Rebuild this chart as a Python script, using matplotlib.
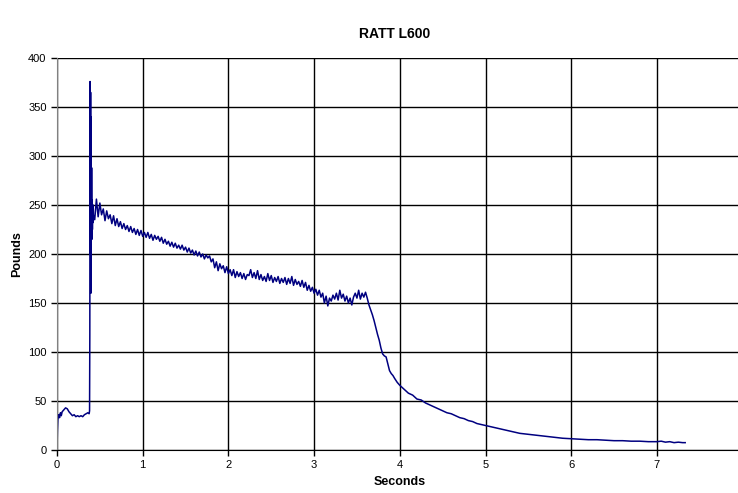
import matplotlib.pyplot as plt

plt.rcParams['font.family'] = ['Liberation Sans', 'DejaVu Sans']

# start: pre-load and ignition spike
t_start = [0.00, 0.005, 0.01, 0.02, 0.03, 0.04, 0.05, 0.06, 0.08, 0.10, 0.12, 0.14,
           0.16, 0.18, 0.20, 0.22, 0.24, 0.26, 0.28, 0.30, 0.32, 0.34, 0.36, 0.375,
           0.380, 0.383, 0.386, 0.389, 0.392, 0.395, 0.398, 0.401, 0.404, 0.407,
           0.410, 0.413, 0.416, 0.419, 0.422, 0.425]
p_start = [0, 20, 31, 36, 33, 38, 35, 39, 41, 43, 42, 39,
           37, 35, 36, 34, 35, 34, 35, 34, 36, 37, 38, 37,
           40, 118, 376, 200, 365, 160, 340, 230, 288, 215,
           255, 225, 245, 232, 250, 240]

# burn: noisy plateau
t_burn = [0.44, 0.46, 0.48, 0.50, 0.52, 0.54, 0.56, 0.58, 0.60, 0.62,
          0.64, 0.66, 0.68, 0.70, 0.72, 0.74, 0.76, 0.78, 0.80, 0.82,
          0.84, 0.86, 0.88, 0.90, 0.92, 0.94, 0.96, 0.98, 1.00, 1.02,
          1.04, 1.06, 1.08, 1.10, 1.12, 1.14, 1.16, 1.18, 1.20, 1.22,
          1.24, 1.26, 1.28, 1.30, 1.32, 1.34, 1.36, 1.38, 1.40, 1.42,
          1.44, 1.46, 1.48, 1.50, 1.52, 1.54, 1.56, 1.58, 1.60, 1.62,
          1.64, 1.66, 1.68, 1.70, 1.72, 1.74, 1.76, 1.78, 1.80, 1.82,
          1.84, 1.86, 1.88, 1.90, 1.92, 1.94, 1.96, 1.98, 2.00, 2.02,
          2.04, 2.06, 2.08, 2.10, 2.12, 2.14, 2.16, 2.18, 2.20, 2.22,
          2.24, 2.26, 2.28, 2.30, 2.32, 2.34, 2.36, 2.38, 2.40, 2.42,
          2.44, 2.46, 2.48, 2.50, 2.52, 2.54, 2.56, 2.58, 2.60, 2.62,
          2.64, 2.66, 2.68, 2.70, 2.72, 2.74, 2.76, 2.78, 2.80, 2.82,
          2.84, 2.86, 2.88, 2.90, 2.92, 2.94, 2.96, 2.98, 3.00, 3.02,
          3.04, 3.06, 3.08, 3.10, 3.12, 3.14, 3.16, 3.18, 3.20, 3.22,
          3.24, 3.26, 3.28, 3.30, 3.32, 3.34, 3.36, 3.38, 3.40, 3.42,
          3.44, 3.46, 3.48, 3.50, 3.52, 3.54, 3.56, 3.58, 3.60, 3.62]
p_burn = [235, 256, 238, 252, 240, 246, 234, 244, 236, 240,
          231, 239, 229, 236, 228, 233, 226, 231, 225, 229,
          223, 228, 222, 226, 220, 225, 219, 224, 218, 222,
          217, 222, 216, 220, 214, 219, 215, 218, 213, 217,
          211, 215, 210, 213, 208, 212, 207, 211, 206, 209,
          205, 209, 204, 207, 202, 206, 201, 204, 199, 203,
          198, 202, 197, 200, 195, 199, 196, 198, 192, 195,
          186, 192, 183, 190, 185, 188, 181, 187, 180, 184,
          178, 184, 176, 182, 177, 181, 175, 180, 174, 179,
          178, 184, 176, 181, 175, 183, 174, 179, 173, 177,
          172, 180, 173, 178, 171, 176, 172, 177, 170, 175,
          171, 176, 169, 175, 170, 177, 168, 174, 169, 172,
          167, 173, 166, 171, 163, 168, 162, 166, 160, 164,
          158, 163, 156, 160, 150, 157, 147, 155, 152, 158,
          154, 160, 153, 163, 155, 159, 152, 157, 150, 155,
          148, 156, 160, 155, 163, 154, 160, 156, 161, 155]

# tail-off
t_tail = [3.64, 3.66, 3.68, 3.70, 3.72, 3.74, 3.76, 3.78, 3.80, 3.82, 3.84,
          3.86, 3.88, 3.90, 3.92, 3.94, 3.97, 4.00, 4.05, 4.10, 4.15, 4.20,
          4.25, 4.30, 4.35, 4.40, 4.45, 4.50, 4.55, 4.60, 4.65, 4.70, 4.75,
          4.80, 4.85, 4.90, 4.95, 5.00, 5.05, 5.10, 5.15, 5.20, 5.25, 5.30,
          5.35, 5.40, 5.45, 5.50, 5.60, 5.70, 5.80, 5.90, 6.00, 6.10, 6.20,
          6.30, 6.40, 6.50, 6.60, 6.70, 6.80, 6.90, 7.00, 7.05, 7.10, 7.15,
          7.20, 7.25, 7.30, 7.33]
p_tail = [148, 143, 138, 132, 125, 118, 112, 104, 98, 96, 95,
          88, 81, 78, 76, 73, 69, 66, 62, 58, 56, 52,
          51, 48, 46, 44, 42, 40, 38, 37, 35, 33, 32,
          30, 29, 27, 26, 25, 24, 23, 22, 21, 20, 19,
          18, 17, 16.5, 16, 15, 14, 13, 12, 11.5, 11, 10.5,
          10.5, 10, 9.5, 9.5, 9, 9, 8.5, 8.5, 9, 8, 8.5,
          7.5, 8, 7.5, 7.5]

times = t_start + t_burn + t_tail
pounds = p_start + p_burn + p_tail

fig = plt.figure(figsize=(7.38, 4.93), dpi=100)
ax = fig.add_axes([57 / 738, 43 / 493, 685.6 / 738, 392 / 493])

ax.plot(times, pounds, color='#000080', linewidth=1.1)

ax.set_xlim(0, 8)
ax.set_ylim(0, 400)
ax.set_xticks(range(0, 8))
ax.set_yticks(range(0, 401, 50))
ax.grid(True, color='black', linewidth=1.0)
ax.set_axisbelow(True)

for side in ['top', 'right']:
    ax.spines[side].set_visible(False)
ax.spines['left'].set_color('#808080')
ax.spines['bottom'].set_color('black')
ax.tick_params(axis='both', labelsize=8, length=4, width=1, direction='out')

ax.set_xlabel('Seconds', fontsize=9, fontweight='bold', labelpad=4)
ax.set_ylabel('Pounds', fontsize=9, fontweight='bold')
ax.yaxis.set_label_coords((23 - 57) / 685.6, 0.5)
fig.suptitle('RATT L600', fontsize=10, fontweight='bold', x=0.535, y=0.945)

fig.savefig('out.png', dpi=100)
